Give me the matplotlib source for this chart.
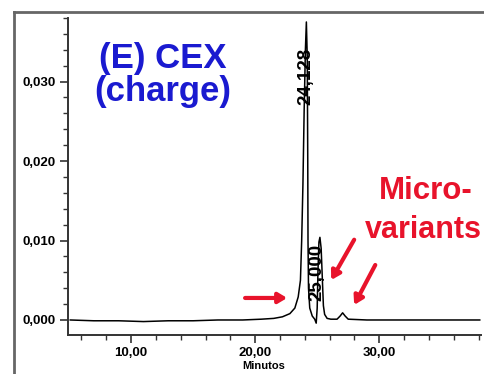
import matplotlib
matplotlib.use("Agg")
import matplotlib.pyplot as plt
from matplotlib.lines import Line2D
from matplotlib.ticker import MultipleLocator, FuncFormatter

# ---- data ----
time_min = [5.1, 7.0, 9.0, 11.0, 13.0, 15.0, 17.0, 19.0, 20.5, 21.5, 22.2, 22.8,
            23.2, 23.47, 23.65, 23.75, 23.85, 23.95, 24.05, 24.128, 24.2, 24.24,
            24.26, 24.3, 24.4, 24.6, 24.8, 24.92, 25.0, 25.06, 25.14, 25.22, 25.32,
            25.42, 25.5, 25.6, 25.8, 26.1, 26.6, 26.85, 27.05, 27.25, 27.5, 29.0,
            32.0, 35.0, 38.1]
absorbance = [0.0000, -0.0001, -0.0001, -0.0002, -0.0001, -0.0001, 0.0, 0.0, 0.0001,
              0.0002, 0.0004, 0.0008, 0.0015, 0.0029, 0.0050, 0.0100, 0.0170, 0.0264,
              0.0340, 0.0375, 0.0330, 0.0200, 0.0100, 0.0040, 0.0015, 0.0005, 0.0001,
              -0.0004, 0.0015, 0.0060, 0.0098, 0.0104, 0.0090, 0.0050, 0.0018, 0.0007,
              0.0002, 0.0001, 0.0001, 0.0005, 0.0009, 0.0005, 0.0001, 0.0000, 0.0000,
              0.0000, 0.0000]

peak_times = [24.128, 25.000]
peak_labels = ["24,128", "25,000"]
peak_label_y = [0.0307, 0.0060]

x_major = [10, 20, 30]
y_major = [0.000, 0.010, 0.020, 0.030]

def comma2(v, pos):
    return f"{v:.2f}".replace(".", ",")

def comma3(v, pos):
    return f"{v:.3f}".replace(".", ",")

W, H = 485, 374
fig = plt.figure(figsize=(W / 100, H / 100), dpi=100)
fig.patch.set_facecolor("white")

ax = fig.add_axes([68 / W, 1 - 335 / H, (481 - 68) / W, (335 - 18) / H])
ax.plot(time_min, absorbance, color="black", lw=1.1)

ax.set_xlim(4.92, 38.2)
ax.set_ylim(-0.00189, 0.0380)

for s in ["top", "right"]:
    ax.spines[s].set_visible(False)
for s in ["left", "bottom"]:
    ax.spines[s].set_color("#333333")
    ax.spines[s].set_linewidth(1.4)

ax.set_xticks(x_major)
ax.set_yticks(y_major)
ax.xaxis.set_minor_locator(MultipleLocator(2))
ax.yaxis.set_minor_locator(MultipleLocator(0.002))
ax.xaxis.set_major_formatter(FuncFormatter(comma2))
ax.yaxis.set_major_formatter(FuncFormatter(comma3))
ax.tick_params(axis="both", which="major", direction="out", length=6, width=1.2,
               color="#333333", labelsize=9.5, pad=3)
ax.tick_params(axis="both", which="minor", direction="out", length=3.5, width=1.0,
               color="#333333")
for lab in ax.get_xticklabels() + ax.get_yticklabels():
    lab.set_fontweight("bold")
    lab.set_family("Liberation Sans")

# peak labels
for t, lab, yy in zip(peak_times, peak_labels, peak_label_y):
    ax.text(t, yy, lab, rotation=90, ha="center", va="center", fontsize=13.5,
            fontweight="bold", family="Liberation Sans", color="black")

# red arrows
red = "#e8132b"
arrows = [((19.19, 0.00277), (22.58, 0.00277)),
          ((27.98, 0.0101), (26.13, 0.00503)),
          ((29.68, 0.00692), (27.98, 0.00189))]
for tail, tip in arrows:
    ax.annotate("", xy=tip, xytext=tail,
                arrowprops=dict(arrowstyle="-|>,head_length=0.5,head_width=0.3",
                                color=red, lw=3, shrinkA=0, shrinkB=0))

# texts
def fx(px):
    return px / W

def fy(py):
    return 1 - py / H

blue = "#1a1ad0"
fig.text(fx(162.5), fy(68), "(E) CEX", ha="center", va="baseline", fontsize=25,
         fontweight="bold", family="Liberation Sans", color=blue)
fig.text(fx(162.5), fy(101), "(charge)", ha="center", va="baseline", fontsize=25,
         fontweight="bold", family="Liberation Sans", color=blue)
fig.text(fx(426), fy(199), "Micro-", ha="center", va="baseline", fontsize=22.5,
         fontweight="bold", family="Liberation Sans", color=red)
fig.text(fx(423), fy(238), "variants", ha="center", va="baseline", fontsize=22,
         fontweight="bold", family="Liberation Sans", color=red)
fig.text(fx(264), fy(361), "Minutos", ha="center", va="top", fontsize=8,
         fontweight="bold", family="Liberation Sans", color="black")

# outer frame
fig.add_artist(Line2D([fx(14), fx(14)], [fy(12), 0], color="#666666", lw=2))
fig.add_artist(Line2D([fx(14), 1], [fy(12), fy(12)], color="#666666", lw=2))

fig.savefig("out.png", dpi=100)
